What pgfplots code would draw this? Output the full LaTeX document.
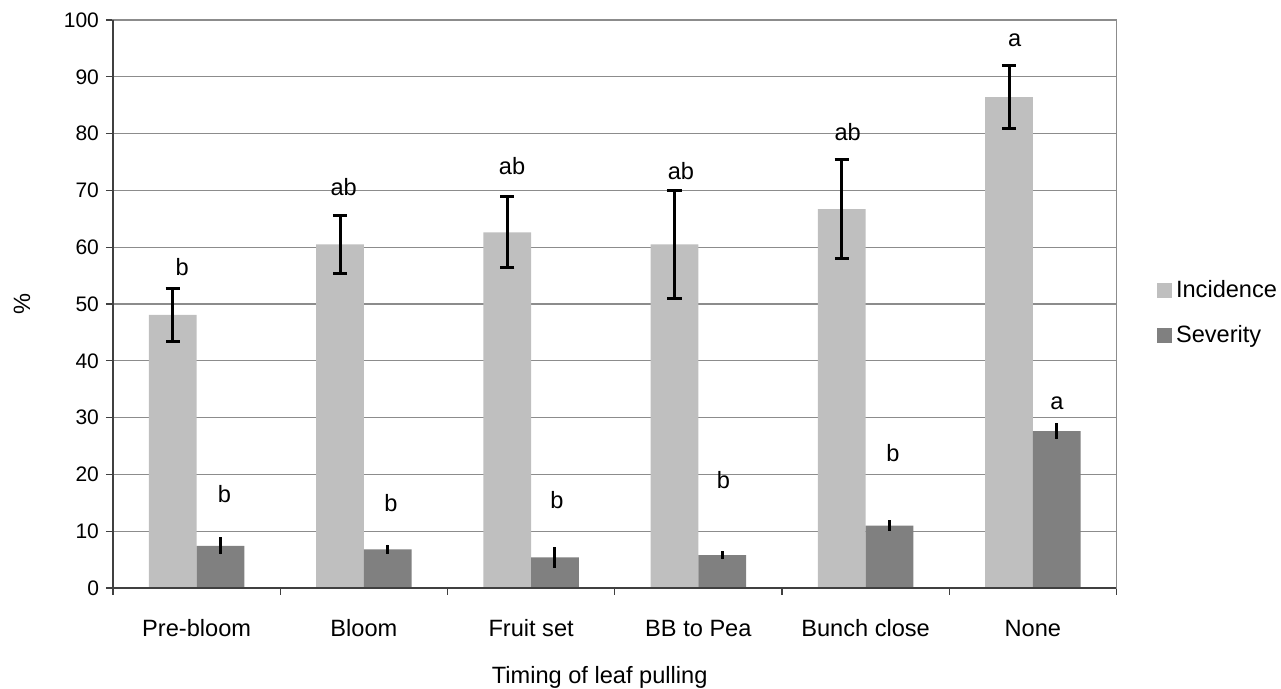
\documentclass[border=0pt]{standalone}
\usepackage{pgfplots}
\pgfplotsset{compat=1.18}
\usepackage{fontspec}
\setmainfont{Liberation Sans}
\definecolor{inc}{HTML}{BFBFBF}
\definecolor{sev}{HTML}{808080}
\definecolor{gridc}{HTML}{8C8C8C}
\definecolor{axc}{HTML}{404040}
\newcommand{\ff}{\fontsize{10.5}{12}\selectfont}
\newcommand{\fw}{\fontsize{11.8}{13}\selectfont}
\pgfplotsset{sqlegend/.style={legend image code/.code={\fill[##1] (0pt,-3.75pt) rectangle (7.5pt,3.75pt);}}}
\begin{document}
\begin{tikzpicture}
\begin{axis}[
  at={(0,0)}, anchor=south west,
  scale only axis, width=501.75pt, height=284pt,
  clip=false,
  xmin=-0.5, xmax=5.5, ymin=0, ymax=100,
  ytick={0,10,...,100},
  ymajorgrids, grid style={gridc, line width=0.6pt},
  axis line style={gridc, line width=0.7pt},
  xtick pos=bottom, ytick pos=left,
  tick align=outside,
  major tick length=3.5pt,
  tick style={axc, line width=0.6pt},
  xtick={-0.5,0.5,...,5.5},
  xticklabels={},
  extra x ticks={0,1,2,3,4,5},
  extra x tick labels={Pre-bloom,Bloom,Fruit set,BB to Pea,Bunch close,None},
  extra x tick style={major tick length=0pt, grid=none,
    tick label style={font=\fw, text height=8.6pt, text depth=0pt, yshift=-12.3pt}},
  /pgf/number format/assume math mode=true,
  y tick label style={font=\ff},
  label style={font=\fw},
  xlabel={Timing of leaf pulling},
  ylabel={\%},
  xlabel style={at={(axis description cs:0.485,-0.158)}, anchor=center},
  ylabel style={at={(axis description cs:-0.0907,0.5)}, anchor=center},
  legend style={at={(1.040,0.484)}, anchor=west, draw=none, fill=none, inner sep=0pt,
    row sep=8.5pt, font=\fw},
  legend cell align=left,
]
\addplot[ybar, sqlegend, bar width=0.285, bar shift=0, fill=inc, draw=none,
  error bars/.cd, y dir=both, y explicit,
  error bar style={line width=1.5pt, black},
  error mark options={rotate=90, mark size=3.6pt, line width=1.5pt, black}]
coordinates {
  (-0.1425,48.1) +- (0,4.7)
  (0.8575,60.5) +- (0,5.05)
  (1.8575,62.6) +- (0,6.25)
  (2.8575,60.5) +- (0,9.5)
  (3.8575,66.7) +- (0,8.7)
  (4.8575,86.4) +- (0,5.5)
};
\addlegendentry{Incidence}
\addplot[ybar, sqlegend, bar width=0.285, bar shift=0, fill=sev, draw=none,
  error bars/.cd, y dir=both, y explicit, error mark=none,
  error bar style={line width=1.5pt, black}]
coordinates {
  (0.1425,7.4) +- (0,1.5)
  (1.1425,6.8) +- (0,0.85)
  (2.1425,5.4) +- (0,1.85)
  (3.1425,5.8) +- (0,0.75)
  (4.1425,11.0) +- (0,0.95)
  (5.1425,27.6) +- (0,1.45)
};
\addlegendentry{Severity}
\draw[axc, line width=0.8pt] (rel axis cs:0,1) -- (rel axis cs:0,0) -- (rel axis cs:1,0);
% significance letters
\node[font=\fw, inner sep=0pt] at (axis cs:-0.087,56.5) {b};
\node[font=\fw, inner sep=0pt] at (axis cs:0.879,70.5) {ab};
\node[font=\fw, inner sep=0pt] at (axis cs:1.886,74.2) {ab};
\node[font=\fw, inner sep=0pt] at (axis cs:2.896,73.4) {ab};
\node[font=\fw, inner sep=0pt] at (axis cs:3.893,80.2) {ab};
\node[font=\fw, inner sep=0pt] at (axis cs:4.891,96.5) {a};
\node[font=\fw, inner sep=0pt] at (axis cs:0.167,16.5) {b};
\node[font=\fw, inner sep=0pt] at (axis cs:1.162,15.0) {b};
\node[font=\fw, inner sep=0pt] at (axis cs:2.155,15.5) {b};
\node[font=\fw, inner sep=0pt] at (axis cs:3.150,19.0) {b};
\node[font=\fw, inner sep=0pt] at (axis cs:4.164,23.8) {b};
\node[font=\fw, inner sep=0pt] at (axis cs:5.144,32.6) {a};
\end{axis}
\pgfresetboundingbox
\useasboundingbox (-56.5pt,-50.5pt) rectangle (584pt,294pt);
\end{tikzpicture}
\end{document}
